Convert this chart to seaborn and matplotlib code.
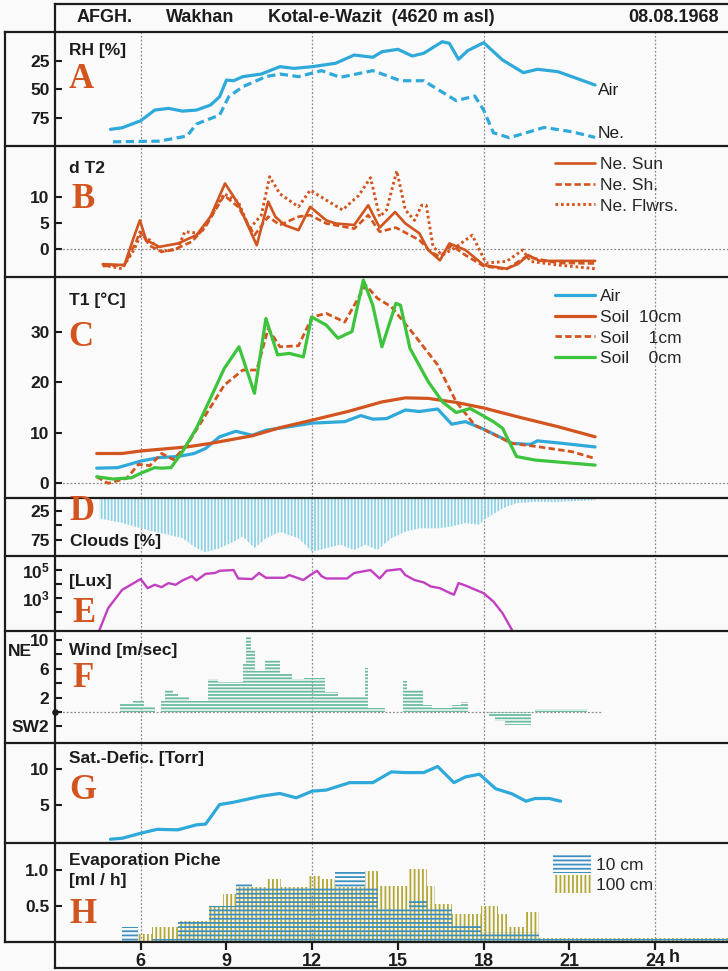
import matplotlib
matplotlib.use("Agg")
import matplotlib.pyplot as plt
from matplotlib.lines import Line2D
from matplotlib.patches import Patch
import seaborn as sns

# ---------------- data ----------------
hour_ticks = [6, 9, 12, 15, 18, 21, 24]
hour_labels = ["6", "9", "12", "15", "18", "21", "24"]

# A  relative humidity [%]
rh_air_t = [4.94, 5.35, 6.0, 6.49, 6.97, 7.46, 7.95, 8.44, 8.76, 9.0, 9.25, 9.57, 10.22, 10.87, 11.36, 12.0,
            12.82, 13.47, 14.12, 14.44, 15.0, 15.5, 15.9, 16.55, 16.8, 17.12, 17.44, 18.0, 18.66, 19.39,
            19.88, 20.6, 21.9]
rh_air = [85.3, 83.9, 77.7, 68.3, 66.8, 69.2, 68.3, 63.9, 56.5, 41.8, 42.4, 38.8, 36.5, 30, 31.5, 30,
          27, 19.7, 21.7, 16.8, 14.7, 20.6, 18.2, 8, 9.4, 23.5, 15.9, 8.8, 24.1, 35.3, 32.3, 34.4, 46.2]
rh_ne_t = [5.03, 6.65, 7.62, 7.95, 8.76, 9.08, 9.57, 10.38, 10.87, 11.52, 12.33, 12.98, 14.12, 15.09,
           15.9, 17.04, 17.69, 18.0, 18.34, 18.9, 20.12, 21.1, 21.9]
rh_ne = [96.3, 95.7, 91.2, 80.6, 72.7, 56.5, 47.7, 38.8, 36.5, 38.8, 33.5, 39.4, 33.5, 42.4, 42.4, 60,
         55.9, 68.3, 88.3, 92.7, 83.6, 87.5, 92.4]

# B  d T2
dt_sun_t = [4.67, 5.43, 5.76, 5.97, 6.19, 6.65, 7.3, 7.95, 8.44, 8.95, 9.41, 10.06, 10.46, 10.71, 11.03,
            11.52, 11.93, 12.49, 12.82, 13.47, 13.96, 14.36, 14.9, 15.26, 15.75, 16.06, 16.47, 16.8,
            17.36, 18.0, 18.8, 19.2, 19.56, 19.96, 21.9]
dt_sun = [-2.83, -3.0, 2.4, 5.6, 1.8, 0.5, 1.15, 2.75, 6.3, 12.7, 8.8, 0.8, 9.2, 6.3, 4.7, 3.7, 8.2, 5.6,
          5.0, 4.7, 8.5, 4.2, 7.2, 5.0, 3.1, -0.1, -2.1, 1.15, -0.1, -3.0, -3.7, -2.8, -1.1, -2.2, -2.2]
dt_sh_t = [4.67, 5.43, 5.84, 5.97, 6.32, 6.73, 7.14, 7.79, 8.27, 8.92, 9.41, 9.98, 10.46, 10.87, 11.52,
           11.93, 12.49, 13.47, 13.96, 14.36, 14.93, 15.75, 16.14, 16.47, 16.88, 17.36, 18.0, 18.8,
           19.48, 20.6, 21.9]
dt_sh = [-3.2, -3.0, 1.5, 3.4, 0.7, -0.45, -0.1, 1.5, 4.4, 10.4, 8.2, 2.75, 6.3, 4.7, 6.3, 6.6, 5.0, 4.0,
         6.6, 3.4, 4.2, 1.8, -0.45, -1.4, 0.8, -1.1, -3.2, -3.8, -1.4, -2.6, -2.7]
dt_fl_t = [4.67, 5.35, 5.76, 6.0, 6.32, 6.73, 7.3, 7.54, 8.1, 8.92, 9.41, 9.81, 10.22, 10.51, 10.87,
           11.52, 11.93, 12.49, 13.06, 13.63, 14.04, 14.36, 14.6, 14.96, 15.26, 15.58, 15.83, 15.99,
           16.23, 16.56, 17.04, 17.6, 18.08, 18.8, 19.37, 19.64, 20.6, 21.9]
dt_fl = [-3.0, -3.7, -0.1, 2.75, 1.8, -0.45, 0.2, 3.4, 3.1, 10.7, 9.2, 4.0, 6.6, 14.0, 10.7, 8.2, 11.4,
         9.5, 7.6, 10.4, 13.8, 6.3, 7.6, 15.1, 7.6, 5.6, 8.5, 8.5, 0.5, -1.1, 0.5, 2.75, -2.6, -2.3,
         -0.1, -2.3, -3.0, -3.7]

# C  T1 [deg C]
t_air_t = [4.46, 5.19, 6.0, 6.65, 7.3, 7.87, 8.27, 8.76, 9.33, 9.9, 10.38, 11.2, 12.0, 13.14, 13.7, 14.12,
           14.6, 15.26, 15.75, 16.39, 16.88, 17.36, 18.0, 18.66, 18.99, 19.64, 19.88, 20.6, 21.9]
t_air = [3.0, 3.1, 4.4, 5.1, 5.3, 5.9, 6.9, 9.2, 10.3, 9.5, 10.5, 11.2, 11.9, 12.2, 13.4, 12.7, 12.8, 14.5,
         14.2, 14.7, 11.7, 12.2, 10.7, 8.9, 7.9, 7.7, 8.4, 8.0, 7.2]
t_s10_t = [4.46, 5.35, 6.0, 7.62, 8.44, 9.9, 10.87, 12.0, 13.31, 14.44, 15.26, 16.06, 17.04, 18.0, 19.3,
           20.6, 21.9]
t_s10 = [5.9, 5.9, 6.4, 7.2, 7.9, 9.4, 11.0, 12.5, 14.3, 16.1, 16.9, 16.8, 16.0, 14.9, 13.0, 11.2, 9.2]
t_s1_t = [4.46, 4.86, 5.51, 5.92, 6.32, 6.73, 7.14, 7.62, 8.27, 8.92, 9.57, 10.06, 10.46, 10.87, 11.52,
          12.0, 12.49, 13.14, 13.87, 14.28, 14.77, 15.58, 16.39, 17.04, 17.69, 18.34, 18.99, 19.96,
          21.1, 21.9]
t_s1 = [1.3, 0.0, 1.0, 3.75, 3.5, 5.9, 4.7, 7.6, 13.5, 19.4, 22.4, 22.4, 30.6, 27.0, 27.2, 32.9, 33.6,
        31.9, 39.2, 36.6, 34.9, 29.3, 23.4, 16.1, 11.5, 9.7, 7.9, 7.2, 6.25, 4.9]
t_s0_t = [4.46, 5.03, 5.68, 6.0, 6.49, 6.73, 7.06, 7.46, 7.95, 8.44, 8.92, 9.44, 9.98, 10.38, 10.79, 11.2,
          11.69, 11.98, 12.49, 12.9, 13.39, 13.79, 14.12, 14.44, 14.93, 15.09, 15.42, 16.06, 16.56,
          17.04, 17.53, 18.34, 18.66, 19.15, 19.8, 21.9]
t_s0 = [1.3, 0.85, 1.1, 2.0, 3.1, 3.0, 3.1, 6.25, 10.9, 16.8, 22.7, 27.0, 17.8, 32.6, 25.4, 25.7, 25.0,
        32.9, 31.3, 28.7, 30.0, 40.2, 35.2, 27.0, 35.6, 35.2, 26.7, 20.1, 16.1, 14.0, 14.8, 12.2, 10.9,
        5.3, 4.6, 3.6]

# D  clouds [%]
cloud_t = [4.54, 5.35, 6.0, 6.49, 6.97, 7.46, 7.95, 8.27, 8.76, 9.25, 9.57, 9.98, 10.38, 10.87, 11.52,
           12.0, 12.49, 12.98, 13.47, 13.87, 14.28, 14.77, 15.26, 15.75, 16.39, 16.88, 17.36, 17.85,
           18.0, 18.66, 19.15, 19.8, 20.6, 21.9]
cloud = [38, 46, 55, 61, 66, 72, 89, 96, 89, 78, 69, 89, 72, 61, 72, 95, 89, 83, 92, 83, 92, 72, 61, 55,
         55, 52, 46, 49, 41, 21, 12, 10, 10, 7]

# E  illuminance [Lux]
lux_t = [4.54, 4.86, 5.35, 6.0, 6.24, 6.49, 6.73, 6.97, 7.22, 7.46, 7.79, 7.95, 8.27, 8.6, 8.76, 9.25,
         9.41, 9.9, 10.14, 10.38, 11.03, 11.2, 11.69, 11.93, 12.17, 12.33, 12.49, 13.22, 13.47, 14.04,
         14.36, 14.6, 15.09, 15.26, 15.58, 15.9, 16.15, 16.47, 16.71, 16.96, 17.12, 17.36, 18.0, 18.34,
         18.66, 18.99]
lux = [4.5, 195, 3890, 22900, 5130, 8910, 6030, 11750, 8910, 18200, 36300, 18200, 53700, 61700, 89100,
       100000, 25100, 22900, 61700, 28200, 28200, 43700, 19500, 43700, 89100, 36300, 25100, 25100, 61700,
       100000, 25100, 89100, 117500, 43700, 19500, 13200, 6760, 5130, 2950, 1740, 11750, 7940, 2240, 575,
       85, 5.5]

# F  wind [m/sec]  (positive NE, negative SW)
wind_start = [5.26, 5.72, 6.1, 6.7, 6.85, 7.12, 7.3, 7.7, 8.35, 8.7, 9.58, 9.7, 9.87, 9.99, 10.34, 10.87,
              11.3, 11.7, 12.45, 12.9, 13.85, 13.97, 15.17, 15.3, 15.87, 16.2, 16.9, 17.2, 18.2, 18.38,
              18.74, 19.8]
wind_end = [5.72, 6.1, 6.5, 6.85, 7.12, 7.3, 7.7, 8.35, 8.7, 9.58, 9.7, 9.87, 9.99, 10.34, 10.87, 11.3,
            11.7, 12.45, 12.9, 13.85, 13.97, 14.56, 15.3, 15.87, 16.2, 16.9, 17.2, 17.44, 18.38, 18.74,
            19.65, 21.6]
wind = [1.15, 1.6, 0.7, 1.6, 3.1, 2.6, 2.05, 1.6, 4.6, 4.15, 6.85, 10.5, 8.6, 5.7, 7.3, 5.4, 4.6, 4.7,
        2.75, 2.2, 6.15, 0.56, 4.3, 3.1, 1.0, 0.56, 1.0, 1.4, -0.7, -1.3, -1.8, 0.42]

# G  saturation deficit [Torr]
sd_t = [4.94, 5.35, 6.0, 6.57, 7.3, 7.95, 8.27, 8.76, 9.25, 10.22, 10.87, 11.44, 12.0, 12.49, 13.31, 14.12,
        14.77, 15.26, 15.9, 16.39, 16.96, 17.36, 17.85, 18.42, 18.99, 19.48, 19.8, 20.29, 20.69]
sd = [0.1, 0.24, 0.95, 1.5, 1.43, 2.14, 2.24, 5.0, 5.33, 6.19, 6.57, 5.95, 6.9, 7.05, 8.1, 8.1, 9.62, 9.52,
      9.52, 10.38, 8.1, 8.9, 9.29, 7.24, 6.52, 5.48, 5.86, 5.86, 5.48]

# H  evaporation Piche [ml/h]
ev10_start = [5.35, 6.4, 7.3, 8.4, 9.35, 9.9, 12.8, 13.85, 14.3, 15.4, 16.0, 16.9, 17.9, 19.95]
ev10_end = [5.9, 7.3, 8.4, 9.35, 9.9, 12.8, 13.85, 14.3, 15.4, 16.0, 16.9, 17.9, 19.95, 26.55]
ev10 = [0.2, 0.04, 0.29, 0.5, 0.8, 0.77, 0.98, 0.77, 0.47, 0.57, 0.45, 0.23, 0.14, 0.03]
ev100_start = [5.9, 6.4, 7.3, 8.4, 8.87, 9.35, 10.4, 10.9, 11.85, 12.27, 12.8, 13.84, 14.3, 15.4, 16.0,
               16.3, 16.9, 17.9, 18.5, 18.8, 19.4, 19.95]
ev100_end = [6.4, 7.3, 8.4, 8.87, 9.35, 10.4, 10.9, 11.85, 12.27, 12.8, 13.84, 14.3, 15.4, 16.0, 16.3,
             16.9, 17.9, 18.5, 18.8, 19.4, 19.95, 26.55]
ev100 = [0.11, 0.2, 0.29, 0.5, 0.67, 0.77, 0.88, 0.77, 0.92, 0.87, 0.77, 0.99, 0.78, 1.02, 0.78, 0.52,
         0.38, 0.5, 0.39, 0.2, 0.42, 0.05]

# ---------------- style ----------------
W, H = 728, 971
sns.set_style("white")
FONT = ["Liberation Sans Narrow", "Liberation Sans", "DejaVu Sans"]
plt.rcParams["font.family"] = FONT
plt.rcParams["mathtext.fontset"] = "custom"
plt.rcParams["mathtext.rm"] = "Liberation Sans"
plt.rcParams["mathtext.bf"] = "Liberation Sans:bold"
plt.rcParams["hatch.linewidth"] = 1.3

BLUE = "#2ea9d9"
ORANGE = "#d2541e"
GREEN = "#3cc43c"
MAGENTA = "#c23fc2"
WIND = "#6cbba0"
CLOUD = "#8fd2e6"
EV10 = "#3d8fbf"
EV100 = "#b3a834"
INK = "#1c1c1c"

fig = plt.figure(figsize=(W / 100, H / 100), dpi=100, facecolor="#fafafa")


def fx(px):
    return px / W


def fy(py):
    return 1 - py / H


XL = (3.0, 26.55)


def make_ax(top, bot, ylim):
    ax = fig.add_axes([fx(55), fy(bot), fx(728) - fx(55), (bot - top) / H])
    ax.patch.set_alpha(0)
    for s in ax.spines.values():
        s.set_visible(False)
    for h in (6, 12, 18, 24):
        ax.axvline(h, color="#8c8c8c", lw=0.9, ls=(0, (1.5, 1.5)), zorder=0)
    ax.set_xlim(*XL)
    ax.set_ylim(*ylim)
    ax.tick_params(axis="y", direction="in", length=5, width=1.5, pad=4, labelsize=12.5,
                   colors=INK, left=True)
    ax.tick_params(axis="x", bottom=False, labelbottom=False)
    return ax


def finish(ax, ticks, labels):
    ax.set_yticks(ticks)
    ax.set_yticklabels(labels, fontweight="bold")
    ax.minorticks_off()
    ax.set_xlabel("")
    ax.set_ylabel("")


def line(ax, t, v, color, lw=2.2, ls="-", label=None):
    sns.lineplot(x=t, y=v, ax=ax, color=color, lw=lw, linestyle=ls, estimator=None, sort=False,
                 legend=False)
    ln = ax.lines[-1]
    if label:
        ln.set_label(label)
    ln.set_solid_capstyle("round")
    ln.set_solid_joinstyle("round")
    ln.set_dash_joinstyle("round")
    return ln


def title(x, y, s, size=12.5, weight="bold", **kw):
    fig.text(fx(x), fy(y), s, fontsize=size, fontweight=weight, va="center", ha="left", color=INK, **kw)


def letter(x, y, s):
    fig.text(fx(x), fy(y), s, fontsize=25, fontweight="bold", family=["Liberation Serif", "DejaVu Serif"],
             color=ORANGE, va="center", ha="center")


# ---------------- panels ----------------
# A
axA = make_ax(32, 146, (100, -0.6))
line(axA, rh_air_t, rh_air, BLUE, lw=2.3)
line(axA, rh_ne_t, rh_ne, BLUE, lw=2.3, ls=(0, (2.6, 1.4)))
finish(axA, [25, 50, 75], ["25", "50", "75"])
title(69, 50, "RH [%]")
letter(81, 80, "A")
title(598, 90, "Air", size=12.5, weight="normal")
title(598, 133, "Ne.", size=12.5, weight="normal")

# B
axB = make_ax(146, 277, (-5.3, 19.9))
axB.axhline(0, color="#8c8c8c", lw=0.9, ls=(0, (1.5, 1.5)), zorder=0)
lb = [line(axB, dt_sun_t, dt_sun, ORANGE, lw=1.9, label="Ne. Sun"),
      line(axB, dt_sh_t, dt_sh, ORANGE, lw=1.9, ls=(0, (2.4, 1.2)), label="Ne. Sh."),
      line(axB, dt_fl_t, dt_fl, ORANGE, lw=2.1, ls=(0, (0.9, 1.0)), label="Ne. Flwrs.")]
finish(axB, [0, 5, 10], ["0", "5", "10"])
axB.legend(handles=lb, loc="upper left", bbox_to_anchor=(fx(555), fy(157)), bbox_transform=fig.transFigure,
           frameon=False, handlelength=2.3, handletextpad=0.3, labelspacing=0.32, borderpad=0,
           borderaxespad=0, prop=dict(size=12.5, weight="normal"))
title(69, 168, "d T2")
letter(83, 199, "B")

# C
axC = make_ax(277, 498, (-2.9, 40.8))
axC.axhline(0, color="#8c8c8c", lw=0.9, ls=(0, (1.5, 1.5)), zorder=0)
lc = [line(axC, t_air_t, t_air, BLUE, lw=2.3, label="Air"),
      line(axC, t_s10_t, t_s10, ORANGE, lw=2.3, label="Soil  10cm"),
      line(axC, t_s1_t, t_s1, ORANGE, lw=2.0, ls=(0, (2.3, 1.2)), label="Soil    1cm"),
      line(axC, t_s0_t, t_s0, GREEN, lw=2.3, label="Soil    0cm")]
finish(axC, [0, 10, 20, 30], ["0", "10", "20", "30"])
axC.legend(handles=lc, loc="upper left", bbox_to_anchor=(fx(555), fy(289)), bbox_transform=fig.transFigure,
           frameon=False, handlelength=2.3, handletextpad=0.3, labelspacing=0.32, borderpad=0,
           borderaxespad=0, prop=dict(size=12.5, weight="normal"))
title(69, 300, "T1 [°C]")
letter(81, 338, "C")

# D
axD = make_ax(498, 556, (102.3, 3.3))
axD.fill_between(cloud_t, 0, cloud, facecolor="none", edgecolor=CLOUD, hatch="|||||", linewidth=0)
finish(axD, [25, 50, 75], ["25", "", "75"])
letter(82, 512, "D")
title(70, 541, "Clouds [%]")

# E
axE = make_ax(556, 631, (10 ** 0.66, 10 ** 6.0))
axE.set_yscale("log")
line(axE, lux_t, lux, MAGENTA, lw=1.7)
axE.set_ylim(10 ** 0.66, 10 ** 6.0)
finish(axE, [1e2, 1e3, 1e4, 1e5], ["", r"$\mathbf{10^3}$", "", r"$\mathbf{10^5}$"])
title(69, 581, "[Lux]")
letter(84, 614, "E")

# F
axF = make_ax(631, 743, (-4.3, 11.26))
axF.plot([XL[0], 22.15], [0, 0], color="#8c8c8c", lw=0.9, ls=(0, (1.5, 1.5)), zorder=0)
axF.bar(wind_start, wind, width=[e - s for s, e in zip(wind_start, wind_end)], align="edge",
        facecolor="none", edgecolor=WIND, hatch="-----", linewidth=0)
finish(axF, [-2, 0, 2, 4, 6, 8, 10], ["SW2", "", "2", "", "6", "", "10"])
axF.scatter([XL[0]], [0], s=14, color=INK, zorder=5, clip_on=False)
title(8, 651, "NE")
title(69, 650, "Wind [m/sec]")
letter(83, 678, "F")

# G
axG = make_ax(743, 843, (-0.43, 13.7))
line(axG, sd_t, sd, BLUE, lw=2.3)
finish(axG, [5, 10], ["5", "10"])
title(69, 758, "Sat.-Defic. [Torr]")
letter(83, 790, "G")

# H
axH = make_ax(843, 941.5, (0, 1.38))
b100 = axH.bar(ev100_start, ev100, width=[e - s for s, e in zip(ev100_start, ev100_end)], align="edge",
               facecolor="none", edgecolor=EV100, hatch="||||", linewidth=0)
b10 = axH.bar(ev10_start, ev10, width=[e - s for s, e in zip(ev10_start, ev10_end)], align="edge",
              facecolor="none", edgecolor=EV10, hatch="----", linewidth=0)
finish(axH, [0.5, 1.0], ["0.5", "1.0"])
axH.set_xticks(hour_ticks)
axH.set_xticklabels(hour_labels, fontweight="bold", fontsize=13)
axH.tick_params(axis="x", bottom=True, labelbottom=True, direction="out", length=6, width=1.6, pad=2,
                colors=INK)
hl = [Patch(facecolor="none", edgecolor=EV10, hatch="----", linewidth=0),
      Patch(facecolor="none", edgecolor=EV100, hatch="||||", linewidth=0)]
axH.legend(hl, ["10 cm", "100 cm"], loc="upper left", bbox_to_anchor=(fx(553), fy(855)),
           bbox_transform=fig.transFigure, frameon=False, handlelength=2.2, handleheight=1.2,
           handletextpad=0.25, labelspacing=0.15, borderpad=0, borderaxespad=0,
           prop=dict(size=12.5, weight="normal"))
title(69, 860, "Evaporation Piche")
title(69, 880, "[ml / h]")
letter(83, 914, "H")
fig.text(fx(669), fy(957), "h", fontsize=13, fontweight="bold", va="center", ha="left", color=INK)

# ---------------- header & frame ----------------
for x, s in [(77, "AFGH."), (166, "Wakhan"), (268, "Kotal-e-Wazit  (4620 m asl)"), (628, "08.08.1968")]:
    title(x, 18, s, size=13)


def fline(x0, y0, x1, y1, lw=1.6):
    fig.add_artist(Line2D([fx(x0), fx(x1)], [fy(y0), fy(y1)], transform=fig.transFigure, color=INK,
                          lw=lw, solid_capstyle="projecting"))


fline(55, 4, 728, 4)
for yy in (32, 146, 277, 498, 556, 631, 743, 843, 941.5):
    fline(5, yy, 728, yy)
fline(5, 32, 5, 941.5)
fline(55, 4, 55, 968)
fline(55, 968, 728, 968)

fig.savefig("out.png", dpi=100, facecolor=fig.get_facecolor())
